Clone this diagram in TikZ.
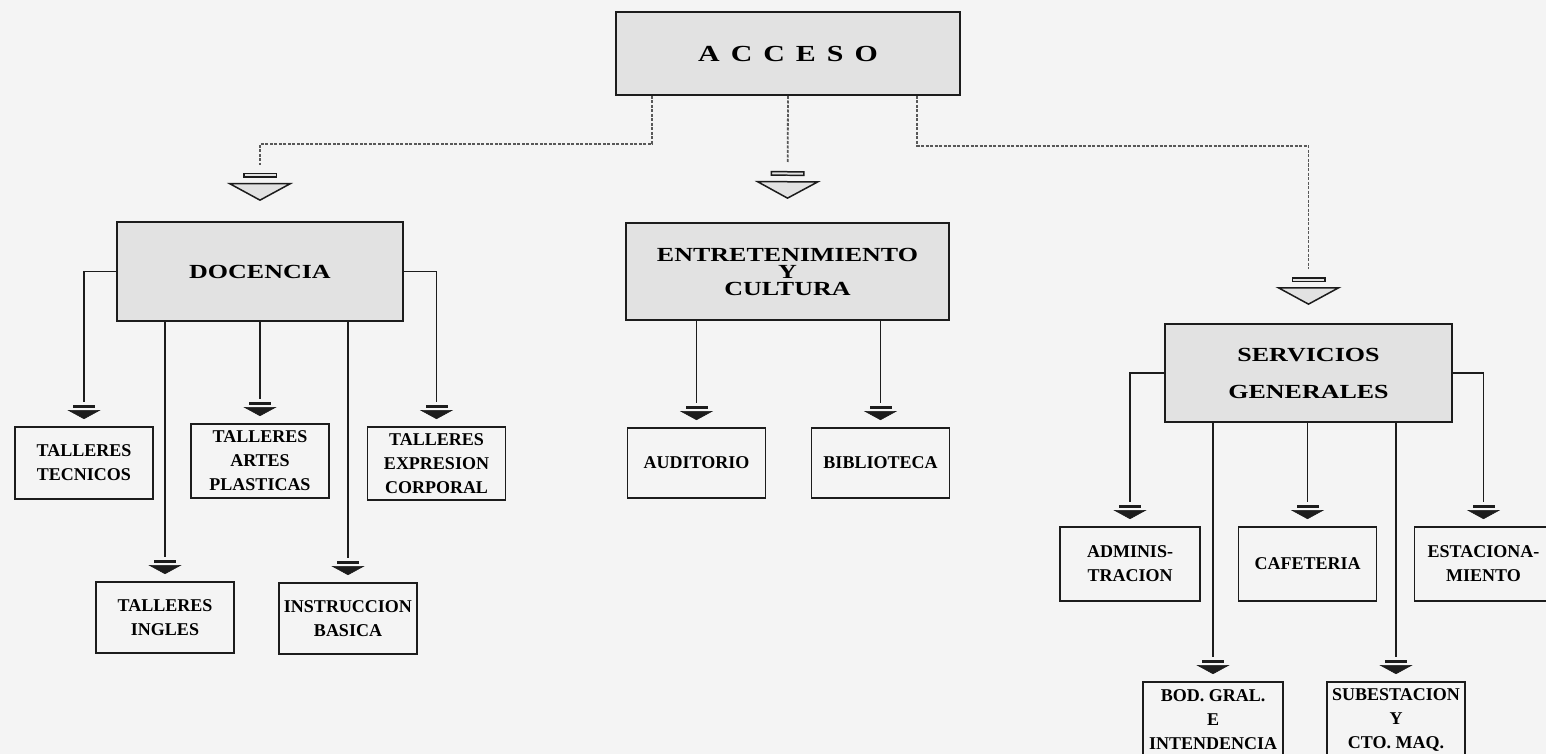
\documentclass[tikz,border=0pt]{standalone}
\usepackage{fontspec}
\setmainfont{Liberation Serif}
\newfontfamily\hdfont{Liberation Serif}[FakeStretch=1.3]
\usepackage{xcolor}
\usepackage{tikz}
\usetikzlibrary{arrows.meta}
\definecolor{pagebg}{HTML}{F4F4F4}
\definecolor{hdfill}{HTML}{E2E2E2}
\definecolor{ink}{HTML}{1C1C1C}

\begin{document}
\begin{tikzpicture}[x=1pt,y=1pt,
  hdbox/.style={draw=ink,line width=2pt,fill=hdfill,inner sep=0pt,align=center,
    font=\hdfont\bfseries\fontsize{20}{17}\selectfont},
  leaf/.style={draw=ink,line width=1.8pt,inner sep=0pt,align=center,
    minimum width=138pt,minimum height=72pt,font=\bfseries\fontsize{18}{24}\selectfont},
  topline/.style={draw=gray!60!ink,line width=1.8pt,dash pattern=on 3pt off 1.5pt,
    -{Rectangle[color=pagebg,line width=0pt,length=8pt,width=4pt]
      Rectangle[fill=hdfill,color=ink,line width=1.5pt,length=5pt,width=34pt]
      Rectangle[color=pagebg,line width=0pt,length=5pt,width=4pt]
      Triangle[fill=hdfill,color=ink,line width=1.5pt,length=18pt,width=66pt]}},
  subline/.style={draw=ink,line width=1.8pt,
    -{Rectangle[color=pagebg,line width=0pt,length=3pt,width=4pt]
      Rectangle[line width=0.6pt,length=2.5pt,width=22pt]
      Rectangle[color=pagebg,line width=0pt,length=2.5pt,width=4pt]
      Triangle[line width=0.6pt,length=9pt,width=33pt]}}]
\useasboundingbox (0,0) rectangle (1546,-754);
\fill[pagebg] (0,0) rectangle (1546,-754);
\clip (0,0) rectangle (1546,-754);

\node[hdbox,minimum width=344pt,minimum height=83pt,font=\hdfont\bfseries\fontsize{23}{26}\selectfont] (acc) at (788,-53.5)
  {A\hspace{11pt}C\hspace{11pt}C\hspace{11pt}E\hspace{11pt}S\hspace{11pt}O};

\node[hdbox,minimum width=286pt,minimum height=99pt] (doc) at (260,-271.5) {DOCENCIA};
\node[hdbox,minimum width=323pt,minimum height=97pt] (ent) at (787.5,-271.5) {ENTRETENIMIENTO\\Y\\CULTURA};
\node[hdbox,minimum width=287pt,minimum height=98pt,font=\hdfont\bfseries\fontsize{20}{37}\selectfont] (ser) at (1308.5,-373) {SERVICIOS\\GENERALES};

\node[leaf] (tec) at (84,-463) {TALLERES\\TECNICOS};
\node[leaf,minimum height=74pt] (art) at (260,-461) {TALLERES\\ARTES\\PLASTICAS};
\node[leaf,minimum height=73pt] (exp) at (436.5,-463.5) {TALLERES\\EXPRESION\\CORPORAL};
\node[leaf,minimum height=71pt] (ing) at (165,-617.5) {TALLERES\\INGLES};
\node[leaf,minimum height=71pt] (ins) at (348,-618.5) {INSTRUCCION\\BASICA};

\node[leaf,minimum height=70pt] (aud) at (696.5,-463) {AUDITORIO};
\node[leaf,minimum height=70pt] (bib) at (880.5,-463) {BIBLIOTECA};

\node[leaf,minimum width=140pt,minimum height=74pt] (adm) at (1130,-564) {ADMINIS-\\TRACION};
\node[leaf,minimum height=74pt] (caf) at (1307.5,-564) {CAFETERIA};
\node[leaf,minimum height=74pt] (est) at (1483.5,-564) {ESTACIONA-\\MIENTO};
\node[leaf,minimum width=140pt,minimum height=76pt] (bod) at (1213,-720) {BOD. GRAL.\\E\\INTENDENCIA};
\node[leaf,minimum height=76pt] (sub) at (1396,-720) {SUBESTACION\\Y\\CTO. MAQ.};

\draw[topline] ([xshift=-136pt]acc.south) -- ++(0,-48) -| ([yshift=20pt]doc.north);
\draw[topline] (acc.south) -- ([yshift=23pt]ent.north);
\draw[topline] ([xshift=129pt]acc.south) -- ++(0,-50) -| ([yshift=18pt]ser.north);

\draw[subline] (doc.west) -| ([yshift=7pt]tec.north);
\draw[subline] (doc.south) -- ([yshift=7pt]art.north);
\draw[subline] (doc.east) -| ([yshift=7pt]exp.north);
\draw[subline] (doc.south -| ing.north) -- ([yshift=7pt]ing.north);
\draw[subline] (doc.south -| ins.north) -- ([yshift=7pt]ins.north);

\draw[subline] (ent.south -| aud.north) -- ([yshift=7pt]aud.north);
\draw[subline] (ent.south -| bib.north) -- ([yshift=7pt]bib.north);

\draw[subline] (ser.west) -| ([yshift=7pt]adm.north);
\draw[subline] (ser.south -| caf.north) -- ([yshift=7pt]caf.north);
\draw[subline] (ser.east) -| ([yshift=7pt]est.north);
\draw[subline] (ser.south -| bod.north) -- ([yshift=7pt]bod.north);
\draw[subline] (ser.south -| sub.north) -- ([yshift=7pt]sub.north);
\end{tikzpicture}
\end{document}
